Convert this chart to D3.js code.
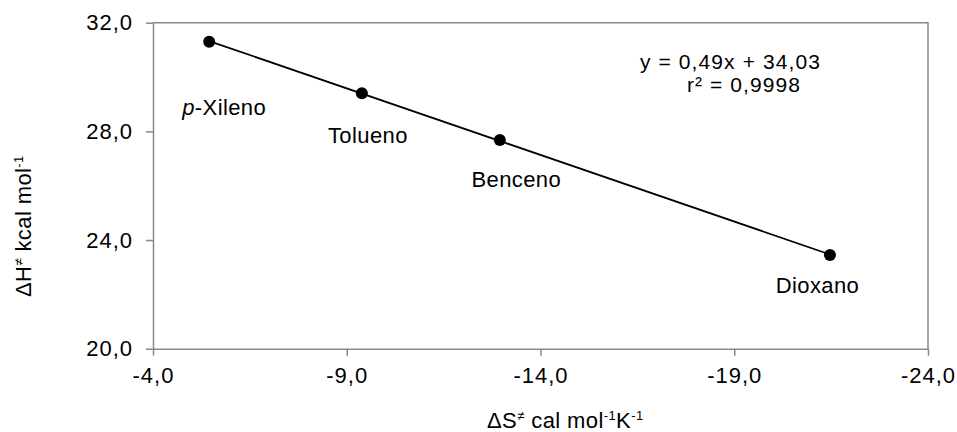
<!DOCTYPE html>
<html>
<head>
<meta charset="utf-8">
<script src="https://cdn.jsdelivr.net/npm/d3@7"></script>
<style>
  html, body { margin: 0; padding: 0; background: #fff; }
  svg { display: block; font-family: "Liberation Sans", Arial, sans-serif; letter-spacing: 0.4px; }
</style>
</head>
<body>
<svg id="chart" width="957" height="432"></svg>
<script>
// ---- data ----
const solvents = ["p-Xileno", "Tolueno", "Benceno", "Dioxano"];
const deltaS = [-5.45, -9.39, -12.95, -21.47];   // ΔS≠ cal mol-1 K-1
const deltaH = [31.30, 29.40, 27.68, 23.45];     // ΔH≠ kcal mol-1
const xTicks = [-4, -9, -14, -19, -24];
const yTicks = [20, 24, 28, 32];
const equationLines = ["y = 0,49x + 34,03", "r² = 0,9998"];

// ---- layout ----
const svg = d3.select("#chart");
const pL = 153, pR = 928, pT = 22.7, pB = 348.7;
const axisColor = "#898989";
const fontSize = 22;

const x = d3.scaleLinear().domain([-4, -24]).range([pL, pR]);
const y = d3.scaleLinear().domain([20, 32]).range([pB, pT]);

const locale = d3.formatLocale({decimal: ",", thousands: ".", grouping: [3], currency: ["", ""], minus: "-"});
const fmt = locale.format(".1f");

// frame (top + right)
svg.append("path")
  .attr("d", `M${pL},${pT}H${pR}V${pB}`)
  .attr("fill", "none").attr("stroke", axisColor).attr("stroke-width", 1.5);

// x axis
const xAxis = svg.append("g").attr("transform", `translate(0,${pB})`)
  .call(d3.axisBottom(x).tickValues(xTicks).tickFormat(fmt).tickSizeInner(7).tickSizeOuter(0).tickPadding(12));
// y axis
const yAxis = svg.append("g").attr("transform", `translate(${pL},0)`)
  .call(d3.axisLeft(y).tickValues(yTicks).tickFormat(fmt).tickSizeInner(7).tickSizeOuter(0).tickPadding(13));

[xAxis, yAxis].forEach(g => {
  g.select(".domain").attr("stroke", axisColor).attr("stroke-width", 1.5);
  g.selectAll(".tick line").attr("stroke", axisColor).attr("stroke-width", 1.5);
  g.selectAll(".tick text").attr("fill", "#000").attr("font-size", fontSize)
    .attr("font-family", "Liberation Sans, Arial, sans-serif")
    .style("letter-spacing", "1px");
});
xAxis.selectAll(".tick text").attr("dy", "0.71em");

// trendline (least squares from data)
const mx = d3.mean(deltaS), my = d3.mean(deltaH);
const slope = d3.sum(deltaS.map((v, i) => (v - mx) * (deltaH[i] - my))) / d3.sum(deltaS.map(v => (v - mx) ** 2));
const intercept = my - slope * mx;
const [xmin, xmax] = d3.extent(deltaS);
svg.append("line")
  .attr("x1", x(xmax)).attr("y1", y(slope * xmax + intercept))
  .attr("x2", x(xmin)).attr("y2", y(slope * xmin + intercept))
  .attr("stroke", "#000").attr("stroke-width", 1.8);

// points
svg.append("g").selectAll("circle").data(deltaS).join("circle")
  .attr("cx", d => x(d)).attr("cy", (d, i) => y(deltaH[i]))
  .attr("r", 6).attr("fill", "#000");

// point labels (pixel offsets from each point)
const labelOffsets = [[15, 73], [6, 50], [16.5, 47], [-12.5, 38]];
const lbl = svg.append("g").selectAll("text").data(solvents).join("text")
  .attr("x", (d, i) => x(deltaS[i]) + labelOffsets[i][0])
  .attr("y", (d, i) => y(deltaH[i]) + labelOffsets[i][1])
  .attr("text-anchor", "middle").attr("font-size", fontSize).attr("fill", "#000");
lbl.each(function(d) {
  const t = d3.select(this);
  if (d.startsWith("p-")) {
    t.append("tspan").attr("font-style", "italic").text("p");
    t.append("tspan").text(d.slice(1));
  } else t.text(d);
});

// equation (two lines)
svg.append("text").attr("x", 730.5).attr("y", 69).attr("text-anchor", "middle")
  .attr("font-size", 21).style("letter-spacing", "1.1px").text(equationLines[0]);
svg.append("text").attr("x", 744).attr("y", 92).attr("text-anchor", "middle")
  .attr("font-size", 21).style("letter-spacing", "1.1px").text(equationLines[1]);

// axis titles: parts [text, isSuperscript]
function richText(t, parts) {
  let raised = false;
  parts.forEach(([s, isSup]) => {
    const ts = t.append("tspan").text(s);
    if (isSup) { ts.attr("font-size", 13).attr("dy", raised ? 0 : -8); raised = true; }
    else { ts.attr("font-size", fontSize); if (raised) { ts.attr("dy", 8); raised = false; } }
  });
}
const xt = svg.append("text").attr("x", 487).attr("y", 428).attr("font-size", fontSize);
richText(xt, [["ΔS", false], ["≠", true], [" cal mol", false], ["-1", true], ["K", false], ["-1", true]]);

const yt = svg.append("text").attr("transform", "translate(31,297) rotate(-90)").attr("font-size", fontSize);
richText(yt, [["ΔH", false], ["≠", true], [" kcal mol", false], ["-1", true]]);
</script>
</body>
</html>
